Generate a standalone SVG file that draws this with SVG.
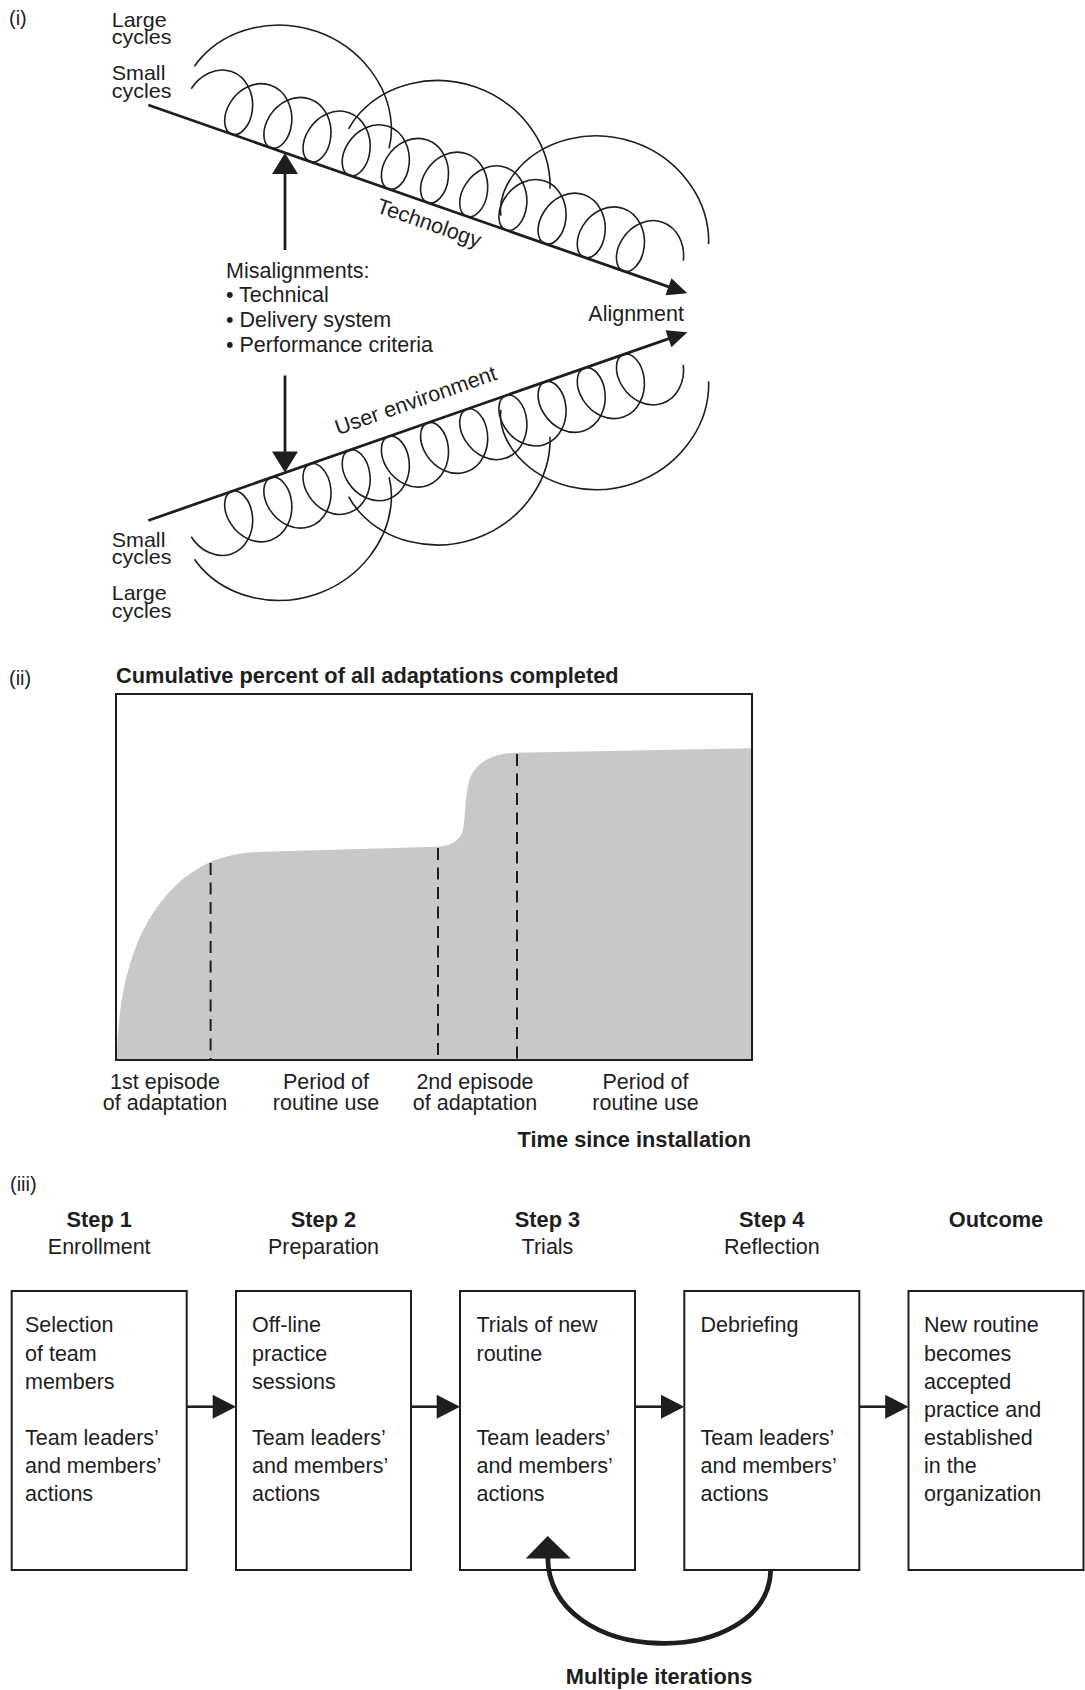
<svg xmlns="http://www.w3.org/2000/svg" xmlns:xlink="http://www.w3.org/1999/xlink" width="1085" height="1690" viewBox="0 0 1085 1690">
  <style>
    text { font-family: "Liberation Sans", Arial, Helvetica, sans-serif; font-size: 21.5px; fill: #1e1e1e; }
    .bold { font-weight: bold; font-size: 21.8px; }
    .tag { font-size: 20px; }
    .coil { fill: none; stroke: #1e1e1e; stroke-width: 1.6; }
    .axis { fill: none; stroke: #1e1e1e; stroke-width: 2.8; }
    .ink { fill: #1e1e1e; stroke: none; }
    .box { fill: #ffffff; stroke: #1e1e1e; stroke-width: 2; }
    .link { fill: none; stroke: #1e1e1e; stroke-width: 2.6; }
    .loop { fill: none; stroke: #1e1e1e; stroke-width: 4.8; }
    .dash { stroke: #1e1e1e; stroke-width: 2; stroke-dasharray: 12 7.5; }
    .frame { fill: none; stroke: #1e1e1e; stroke-width: 2; }
    .area { fill: #c8c8c8; stroke: none; }
  </style>

  <defs>
    <!-- one period of the small coil, in axis-aligned local coordinates (x along the axis, y = -height) -->
    <path id="coil" class="coil" d="M0 0
      c -4.03 0 -8.026 -3.179 -10.369 -8.64
      c -2.343 -5.461 -2.985 -13.137 -1.256 -20.86
      c 1.729 -7.723 5.829 -15.399 11.631 -20.86
      c 5.802 -5.461 13.255 -8.64 20.744 -8.64
      c 7.489 0 14.941 3.179 20.743 8.64
      c 5.802 5.461 9.903 13.137 11.632 20.86
      c 1.729 7.723 1.086 15.399 -1.257 20.86
      c -2.343 5.461 -6.338 8.64 -10.368 8.64"/>

    <!-- axis with its small and large cycles; drawn once for the technology side and mirrored for the user side -->
    <g id="strand" transform="translate(148.3 105) rotate(19.26)">
      <line class="axis" x1="0" y1="0" x2="553" y2="0"/>
      <polygon class="ink" points="551,-9 571,0 551,9"/>

      <!-- small cycles -->
      <path class="coil" d="M35.175 -29.5
        c 1.729 -7.723 5.829 -15.399 11.631 -20.86
        c 5.802 -5.461 13.255 -8.64 20.744 -8.64
        c 7.489 0 14.941 3.179 20.743 8.64
        c 5.802 5.461 9.903 13.137 11.632 20.86
        c 1.729 7.723 1.086 15.399 -1.257 20.86
        c -2.343 5.461 -6.338 8.64 -10.368 8.64"/>
      <use xlink:href="#coil" href="#coil" x="88.3"/>
      <use xlink:href="#coil" href="#coil" x="129.8"/>
      <use xlink:href="#coil" href="#coil" x="171.3"/>
      <use xlink:href="#coil" href="#coil" x="212.8"/>
      <use xlink:href="#coil" href="#coil" x="254.3"/>
      <use xlink:href="#coil" href="#coil" x="295.8"/>
      <use xlink:href="#coil" href="#coil" x="337.3"/>
      <use xlink:href="#coil" href="#coil" x="378.8"/>
      <use xlink:href="#coil" href="#coil" x="420.3"/>
      <use xlink:href="#coil" href="#coil" x="461.8"/>
      <path class="coil" d="M503.3 0
        c -4.03 0 -8.026 -3.179 -10.369 -8.64
        c -2.343 -5.461 -2.985 -13.137 -1.256 -20.86
        c 1.729 -7.723 5.829 -15.399 11.631 -20.86
        c 5.802 -5.461 13.255 -8.64 20.744 -8.64
        c 7.489 0 14.941 3.179 20.743 8.64
        c 5.802 5.461 9.903 13.137 11.632 20.86"/>

      <!-- large cycles -->
      <path class="coil" d="M30.787 -51.877
        c 0.956 -3.506 2.194 -7.065 3.716 -10.623
        c 7 -16.363 20.306 -32.624 38.136 -44.194
        c 17.83 -11.57 40.051 -18.306 62.367 -18.306
        c 22.316 0 44.538 6.736 62.368 18.306
        c 17.83 11.57 31.135 27.831 38.135 44.194
        c 3.5 8.181 5.478 16.359 6.048 23.918"/>
      <path class="coil" d="M197.013 -43.5
        c 0.922 -6.129 2.738 -12.567 5.49 -19
        c 7 -16.363 20.306 -32.624 38.136 -44.194
        c 17.83 -11.57 40.051 -18.306 62.367 -18.306
        c 22.316 0 44.538 6.736 62.368 18.306
        c 17.83 11.57 31.135 27.831 38.135 44.194
        c 1.289 3.013 2.373 6.038 3.255 9.019"/>
      <path class="coil" d="M369.384 -12
        c -6.438 -11.546 -7.267 -30.9 1.119 -50.5
        c 7 -16.363 20.306 -32.624 38.136 -44.194
        c 17.83 -11.57 40.051 -18.306 62.367 -18.306
        c 22.316 0 44.538 6.736 62.368 18.306
        c 17.83 11.57 31.135 27.831 38.135 44.194
        c 1.289 3.013 2.373 6.038 3.255 9.019"/>
    </g>

    <!-- misalignment pointer (upward), mirrored for the lower axis -->
    <g id="pointer">
      <line class="axis" x1="285" y1="250" x2="285" y2="172"/>
      <polygon class="ink" points="272,174 285,153 298,174"/>
    </g>

    <polygon id="step-head" class="ink" points="-23.3,-12 0,0 -23.3,12"/>
  </defs>

  <!-- (i) technology / user environment cycles -->
  <g id="panel-i">
    <text class="tag" x="9" y="25">(i)</text>

    <g id="technology-axis">
      <use xlink:href="#strand" href="#strand"/>
      <use xlink:href="#pointer" href="#pointer"/>
      <text transform="translate(148.3 105) rotate(19.26)" x="304" y="26" text-anchor="middle">Technology</text>
    </g>

    <g id="user-axis">
      <use xlink:href="#strand" href="#strand" transform="matrix(1 0 0 -1 0 625.5)"/>
      <use xlink:href="#pointer" href="#pointer" transform="matrix(1 0 0 -1 0 625.5)"/>
      <text transform="translate(148.3 520.5) rotate(-19.26)" x="292" y="-18" text-anchor="middle">User environment</text>
    </g>

    <!-- tightly set two-line cycle labels -->
    <g id="cycle-labels">
      <text transform="translate(111.7 27) scale(1 0.9)">Large</text>
      <text transform="translate(111.7 44) scale(1 0.9)">cycles</text>
      <text transform="translate(111.7 80) scale(1 0.9)">Small</text>
      <text transform="translate(111.7 97.7) scale(1 0.9)">cycles</text>
      <text transform="translate(111.7 546.7) scale(1 0.9)">Small</text>
      <text transform="translate(111.7 563.5) scale(1 0.9)">cycles</text>
      <text transform="translate(111.7 600) scale(1 0.9)">Large</text>
      <text transform="translate(111.7 617.7) scale(1 0.9)">cycles</text>
    </g>

    <g id="misalignments">
      <text x="226" y="278.3">Misalignments:</text>
      <text x="226" y="302">• Technical</text>
      <text x="226" y="327">• Delivery system</text>
      <text x="226" y="352">• Performance criteria</text>
    </g>

    <text id="alignment" x="588.3" y="320.7">Alignment</text>
  </g>

  <!-- (ii) cumulative adaptations over time -->
  <g id="panel-ii">
    <text class="tag" x="9" y="685">(ii)</text>
    <text class="bold" x="116" y="683">Cumulative percent of all adaptations completed</text>

    <path class="area" d="M117 1059
      C 118 960, 150 890, 210.6 861.7
      C 228 855, 245 852, 263.5 851.7
      L 437 846.7
      C 450 846, 458 842, 462 833
      C 466 822, 464 800, 469.4 780
      C 474 765, 490 753, 517 752.7
      L 751 748.3
      L 751 1059 Z"/>

    <line class="dash" x1="210.6" y1="863" x2="210.6" y2="1059"/>
    <line class="dash" x1="438" y1="848" x2="438" y2="1059"/>
    <line class="dash" x1="517" y1="754" x2="517" y2="1059"/>

    <rect class="frame" x="116" y="694" width="636" height="366"/>

    <g id="period-labels" text-anchor="middle">
      <text x="165" y="1089">1st episode</text>
      <text x="165" y="1110">of adaptation</text>
      <text x="326" y="1089">Period of</text>
      <text x="326" y="1110">routine use</text>
      <text x="475" y="1089">2nd episode</text>
      <text x="475" y="1110">of adaptation</text>
      <text x="645.5" y="1089">Period of</text>
      <text x="645.5" y="1110">routine use</text>
    </g>
    <text class="bold" x="751" y="1147" text-anchor="end">Time since installation</text>
  </g>

  <!-- (iii) learning process steps -->
  <g id="panel-iii">
    <text class="tag" x="10" y="1191">(iii)</text>

    <g id="step1">
      <text class="bold" x="99.2" y="1226.7" text-anchor="middle">Step 1</text>
      <text x="99.2" y="1254" text-anchor="middle">Enrollment</text>
      <rect class="box" x="11.7" y="1291" width="175" height="279"/>
      <text x="25" y="1332.3">Selection</text>
      <text x="25" y="1360.5">of team</text>
      <text x="25" y="1388.5">members</text>
      <text x="25" y="1445">Team leaders’</text>
      <text x="25" y="1473">and members’</text>
      <text x="25" y="1501">actions</text>
    </g>

    <g id="step2">
      <text class="bold" x="323.5" y="1226.7" text-anchor="middle">Step 2</text>
      <text x="323.5" y="1254" text-anchor="middle">Preparation</text>
      <rect class="box" x="236" y="1291" width="175" height="279"/>
      <text x="252" y="1332.3">Off-line</text>
      <text x="252" y="1360.5">practice</text>
      <text x="252" y="1388.5">sessions</text>
      <text x="252" y="1445">Team leaders’</text>
      <text x="252" y="1473">and members’</text>
      <text x="252" y="1501">actions</text>
    </g>

    <g id="step3">
      <text class="bold" x="547.5" y="1226.7" text-anchor="middle">Step 3</text>
      <text x="547.5" y="1254" text-anchor="middle">Trials</text>
      <rect class="box" x="460" y="1291" width="175" height="279"/>
      <text x="476.5" y="1332.3">Trials of new</text>
      <text x="476.5" y="1360.5">routine</text>
      <text x="476.5" y="1445">Team leaders’</text>
      <text x="476.5" y="1473">and members’</text>
      <text x="476.5" y="1501">actions</text>
    </g>

    <g id="step4">
      <text class="bold" x="771.8" y="1226.7" text-anchor="middle">Step 4</text>
      <text x="771.8" y="1254" text-anchor="middle">Reflection</text>
      <rect class="box" x="684.3" y="1291" width="175" height="279"/>
      <text x="700.5" y="1332.3">Debriefing</text>
      <text x="700.5" y="1445">Team leaders’</text>
      <text x="700.5" y="1473">and members’</text>
      <text x="700.5" y="1501">actions</text>
    </g>

    <g id="outcome">
      <text class="bold" x="996" y="1226.7" text-anchor="middle">Outcome</text>
      <rect class="box" x="908.5" y="1291" width="175" height="279"/>
      <text x="924" y="1332.3">New routine</text>
      <text x="924" y="1360.5">becomes</text>
      <text x="924" y="1388.5">accepted</text>
      <text x="924" y="1416.7">practice and</text>
      <text x="924" y="1445">established</text>
      <text x="924" y="1473">in the</text>
      <text x="924" y="1501">organization</text>
    </g>

    <g id="connectors">
      <line class="link" x1="186.7" y1="1406.7" x2="214" y2="1406.7"/>
      <use xlink:href="#step-head" href="#step-head" x="236" y="1406.7"/>
      <line class="link" x1="411" y1="1406.7" x2="438" y2="1406.7"/>
      <use xlink:href="#step-head" href="#step-head" x="460" y="1406.7"/>
      <line class="link" x1="635" y1="1406.7" x2="662" y2="1406.7"/>
      <use xlink:href="#step-head" href="#step-head" x="684.3" y="1406.7"/>
      <line class="link" x1="859.3" y1="1406.7" x2="886" y2="1406.7"/>
      <use xlink:href="#step-head" href="#step-head" x="908.5" y="1406.7"/>

      <path class="loop" d="M770.7 1570 C 768 1670, 548 1670, 547.7 1556"/>
      <polygon class="ink" points="525.7,1558.5 547.7,1536 570.7,1558.5"/>
    </g>

    <text class="bold" x="659" y="1684" text-anchor="middle">Multiple iterations</text>
  </g>
</svg>
